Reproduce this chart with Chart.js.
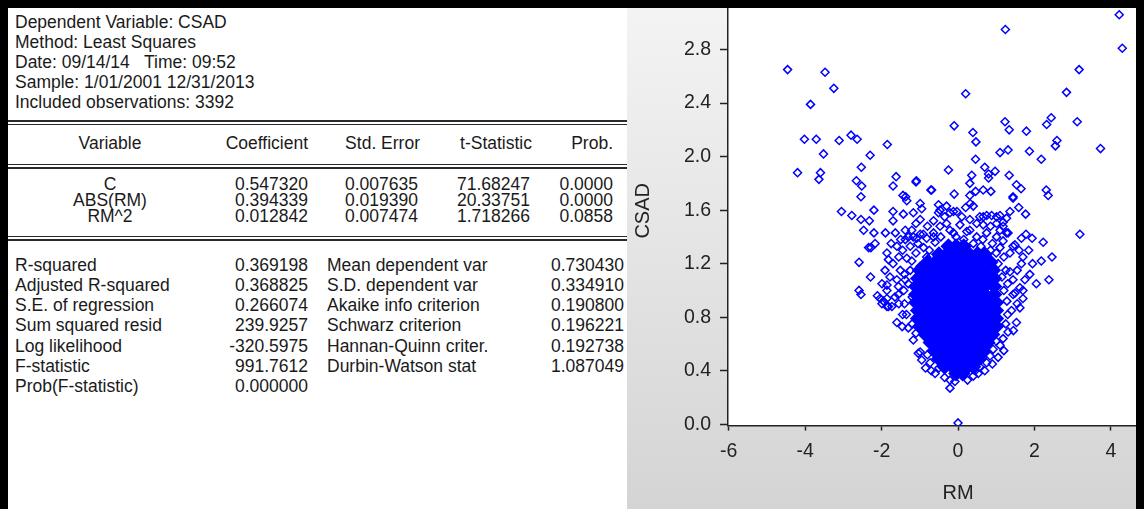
<!DOCTYPE html>
<html>
<head>
<meta charset="utf-8">
<script src="https://cdn.jsdelivr.net/npm/chart.js@4.4.1/dist/chart.umd.min.js"></script>
<style>
  html, body { margin: 0; padding: 0; width: 1144px; height: 509px; overflow: hidden; background: #fff; }
  body { position: relative; font-family: "Liberation Sans", Arial, sans-serif; color: #1a1a1a; }
  .t { position: absolute; font-size: 17.5px; line-height: 20px; white-space: nowrap; }
  .c { text-align: center; width: 110px; }
  .rule { position: absolute; left: 8px; width: 619px; background: #2a2a2a; }
  #panel { position: absolute; left: 627px; top: 0; width: 517px; height: 509px; background: linear-gradient(#f4f4f4, #d4d4d4); }
  #plot { position: absolute; left: 628px; top: -4px; width: 560px; height: 513px; }
  .bar { position: absolute; background: #000; z-index: 5; }
</style>
</head>
<body>
<div class="bar" style="left:0;top:0;width:1144px;height:8px"></div>
<div class="bar" style="left:0;top:0;width:8px;height:509px"></div>
<div class="bar" style="left:1136px;top:0;width:8px;height:509px"></div>

<div class="t" style="left:15px;top:12px">Dependent Variable: CSAD</div>
<div class="t" style="left:15px;top:32px">Method: Least Squares</div>
<div class="t" style="left:15px;top:52px">Date: 09/14/14&nbsp;&nbsp; Time: 09:52</div>
<div class="t" style="left:15px;top:72px">Sample: 1/01/2001 12/31/2013</div>
<div class="t" style="left:15px;top:92px">Included observations: 3392</div>

<div class="rule" style="top:120px;height:2px"></div>
<div class="rule" style="top:124px;height:1px"></div>

<div class="t c" style="left:55px;top:133px">Variable</div>
<div class="t" style="right:836px;top:133px">Coefficient</div>
<div class="t" style="right:724px;top:133px">Std. Error</div>
<div class="t" style="right:612px;top:133px">t-Statistic</div>
<div class="t" style="right:531px;top:133px">Prob.</div>

<div class="rule" style="top:164px;height:1px"></div>
<div class="rule" style="top:167px;height:2px"></div>

<div class="t c" style="left:55px;top:174px">C</div>
<div class="t c" style="left:55px;top:190px">ABS(RM)</div>
<div class="t c" style="left:55px;top:206px">RM^2</div>
<div class="t" style="right:836px;top:174px">0.547320</div>
<div class="t" style="right:836px;top:190px">0.394339</div>
<div class="t" style="right:836px;top:206px">0.012842</div>
<div class="t" style="right:726px;top:174px">0.007635</div>
<div class="t" style="right:726px;top:190px">0.019390</div>
<div class="t" style="right:726px;top:206px">0.007474</div>
<div class="t" style="right:614px;top:174px">71.68247</div>
<div class="t" style="right:614px;top:190px">20.33751</div>
<div class="t" style="right:614px;top:206px">1.718266</div>
<div class="t" style="right:531px;top:174px">0.0000</div>
<div class="t" style="right:531px;top:190px">0.0000</div>
<div class="t" style="right:531px;top:206px">0.0858</div>

<div class="rule" style="top:236px;height:1px"></div>
<div class="rule" style="top:239px;height:2px"></div>

<div class="t" style="left:15px;top:255px">R-squared</div>
<div class="t" style="left:15px;top:275px">Adjusted R-squared</div>
<div class="t" style="left:15px;top:295px">S.E. of regression</div>
<div class="t" style="left:15px;top:315px">Sum squared resid</div>
<div class="t" style="left:15px;top:336px">Log likelihood</div>
<div class="t" style="left:15px;top:356px">F-statistic</div>
<div class="t" style="left:15px;top:376px">Prob(F-statistic)</div>
<div class="t" style="right:836px;top:255px">0.369198</div>
<div class="t" style="right:836px;top:275px">0.368825</div>
<div class="t" style="right:836px;top:295px">0.266074</div>
<div class="t" style="right:836px;top:315px">239.9257</div>
<div class="t" style="right:836px;top:336px">-320.5975</div>
<div class="t" style="right:836px;top:356px">991.7612</div>
<div class="t" style="right:836px;top:376px">0.000000</div>
<div class="t" style="left:327px;top:255px">Mean dependent var</div>
<div class="t" style="left:327px;top:275px">S.D. dependent var</div>
<div class="t" style="left:327px;top:295px">Akaike info criterion</div>
<div class="t" style="left:327px;top:315px">Schwarz criterion</div>
<div class="t" style="left:327px;top:336px">Hannan-Quinn criter.</div>
<div class="t" style="left:327px;top:356px">Durbin-Watson stat</div>
<div class="t" style="right:520px;top:255px">0.730430</div>
<div class="t" style="right:520px;top:275px">0.334910</div>
<div class="t" style="right:520px;top:295px">0.190800</div>
<div class="t" style="right:520px;top:315px">0.196221</div>
<div class="t" style="right:520px;top:336px">0.192738</div>
<div class="t" style="right:520px;top:356px">1.087049</div>

<div id="panel"></div>
<div id="plot"><canvas id="scatter"></canvas></div>

<script>
// tick labels (6 and 3.2 fall outside the visible frame)
const xTicks = [-6, -4, -2, 0, 2, 4];
const yTicks = [0, 0.4, 0.8, 1.2, 1.6, 2.0, 2.4, 2.8];

// sparse points: [RM, CSAD]
const farPoints = [
  [-4.46, 2.65], [-3.48, 2.63], [-3.25, 2.51], [-3.86, 2.39], [-4.02, 2.13], [-3.71, 2.13],
  [-3.11, 2.12], [-2.80, 2.16], [-2.64, 2.13], [-1.85, 2.09], [-3.52, 2.02], [-2.30, 2.01],
  [-2.53, 1.92], [-4.20, 1.88], [-3.60, 1.88], [-3.64, 1.83], [-2.66, 1.82], [-2.52, 1.78],
  [-1.62, 1.85], [-1.70, 1.78], [-1.09, 1.82], [-0.71, 1.75], [-1.44, 1.71], [-2.54, 1.70],
  [4.22, 3.06], [4.30, 2.81], [1.24, 2.95], [3.17, 2.65], [0.20, 2.47], [2.84, 2.48],
  [2.44, 2.29], [2.32, 2.24], [3.12, 2.26], [-0.10, 2.23], [1.23, 2.26], [1.34, 2.20],
  [1.79, 2.19], [0.39, 2.18], [0.47, 2.11], [2.59, 2.12], [2.55, 2.08], [3.73, 2.06],
  [1.31, 2.05], [1.10, 2.03], [1.87, 2.04], [2.18, 1.98], [0.46, 1.98], [-0.25, 1.90],
  [0.70, 1.92], [0.80, 1.87], [0.80, 1.84], [0.97, 1.89], [0.36, 1.86], [0.31, 1.80],
  [1.34, 1.86], [1.53, 1.79], [1.65, 1.76], [-0.69, 1.75], [-0.10, 1.72], [0.46, 1.74],
  [0.66, 1.75], [0.86, 1.74], [2.31, 1.75], [2.36, 1.71], [1.44, 1.70], [-1.10, 1.81]
];

const shoulderPoints = [
  [3.19, 1.42], [2.18, 1.22], [2.46, 1.25], [2.38, 1.08], [2.23, 1.36], [1.94, 1.39],
  [1.78, 1.42], [1.66, 1.39], [1.77, 1.57], [1.59, 1.62], [1.36, 1.59], [1.44, 1.69],
  [0.32, 1.65], [-1.37, 1.70], [-1.34, 1.67], [-3.05, 1.59], [-2.78, 1.56], [-2.54, 1.53],
  [-2.32, 1.52], [-2.20, 1.60], [-2.47, 1.45], [-2.20, 1.43], [-1.90, 1.43], [-2.17, 1.35],
  [-2.34, 1.32], [-2.28, 1.32], [-2.59, 1.21], [-2.29, 1.10], [-2.59, 1.00], [-2.54, 0.97],
  [-2.11, 0.96], [-2.04, 0.94], [-1.86, 0.88], [-1.95, 0.92], [-1.60, 0.76], [-1.46, 0.73],
  [-0.99, 1.65], [-0.95, 1.61], [-1.70, 1.59], [-1.70, 1.52], [-1.43, 1.57], [-1.17, 1.58],
  [-0.64, 1.52], [-0.51, 1.64], [-0.30, 1.63], [-0.21, 1.58], [-0.03, 1.59], [-0.51, 1.58],
  [0.31, 1.71], [0.40, 1.63], [-1.64, 1.43], [-1.38, 1.45], [-1.21, 1.45], [-1.86, 1.28],
  [-1.82, 1.23], [-1.60, 1.33], [-1.38, 1.38], [-1.08, 1.39], [-0.91, 1.42], [-0.64, 1.43],
  [-0.47, 1.48], [-0.21, 1.45], [0.05, 1.49], [0.31, 1.45], [0.49, 1.50], [-1.34, 1.24],
  [-1.21, 1.22], [-0.99, 1.18], [-0.82, 1.25], [-1.91, 1.15], [-1.78, 1.10], [-1.99, 1.05],
  [-1.86, 1.00], [-1.56, 1.03], [-1.56, 0.97], [-1.38, 1.08], [1.27, 1.54], [1.10, 1.56],
  [0.88, 1.56], [0.66, 1.55], [1.31, 1.43], [1.49, 1.34], [1.70, 1.25], [1.66, 1.20],
  [1.88, 1.12], [1.75, 1.08], [1.70, 1.00], [1.49, 0.98], [1.01, 1.50], [1.18, 1.48],
  [-0.99, 1.53], [-0.47, 1.60], [-0.12, 1.59], [0.31, 1.53], [0.57, 1.55], [0.75, 1.56],
  [1.01, 1.55], [1.18, 1.51], [0.66, 1.49], [-1.17, 1.40], [-0.99, 1.42], [-0.82, 1.39],
  [-0.64, 1.40], [-0.12, 1.43], [0.23, 1.44], [0.49, 1.40], [0.75, 1.43], [1.01, 1.40],
  [1.27, 1.43], [1.18, 1.37], [1.44, 1.33], [1.36, 1.28],
  [-1.45, 1.30], [-1.25, 1.33], [-1.05, 1.35], [-0.75, 1.30], [-0.45, 1.40], [-0.30, 1.50],
  [-0.05, 1.40], [0.15, 1.38], [0.40, 1.35], [0.65, 1.38], [0.90, 1.35], [1.10, 1.32],
  [-1.30, 1.40], [-1.50, 1.38], [-1.75, 1.35], [-1.70, 1.20], [-1.55, 1.25], [0.10, 1.55],
  [0.20, 1.62], [-0.35, 1.55], [-0.80, 1.48], [-1.10, 1.50], [0.85, 1.48], [1.10, 1.45],
  [1.60, 1.30], [1.85, 1.30], [1.95, 1.20], [2.05, 1.05]
];

const edgePoints = [
  [1.31, 0.69], [1.18, 0.64], [1.10, 0.59], [0.92, 0.56], [0.84, 0.51], [0.75, 0.46],
  [0.53, 0.38], [0.40, 0.36], [-1.17, 0.63], [-1.04, 0.53], [-0.95, 0.48], [-0.73, 0.46],
  [-0.60, 0.38], [-0.21, 0.27], [-0.08, 0.32], [-0.21, 0.33], [0.00, 0.01], [-1.82, 0.88],
  [-1.99, 0.90], [-0.99, 0.54], [1.62, 0.87], [1.53, 0.76], [0.57, 0.43], [1.44, 0.97],
  [1.36, 1.14], [1.44, 1.08], [1.62, 1.02], [1.70, 0.94], [-1.51, 1.15], [-1.60, 1.08],
  [-1.86, 1.04], [-1.86, 0.94], [-1.73, 0.88], [1.20, 1.25], [1.25, 1.15], [1.30, 1.05],
  [1.28, 0.92], [1.30, 0.82], [1.25, 0.75], [-1.40, 1.12], [-1.42, 1.00], [-1.40, 0.90],
  [-1.35, 0.82], [-1.30, 0.72], [-1.10, 1.28], [-0.90, 1.32], [-0.60, 1.36], [0.60, 1.33],
  [0.85, 1.30], [1.00, 1.28], [-0.50, 0.42], [-0.35, 0.35], [0.25, 0.33], [0.45, 0.40],
  [0.65, 0.50], [-0.80, 0.52], [1.00, 0.62],
  [1.05, 1.20], [1.15, 1.10], [1.20, 1.00], [-1.25, 1.15], [-1.30, 1.05], [-1.20, 0.95],
  [-1.55, 0.90], [-1.45, 0.82], [-1.65, 0.95], [1.55, 1.15], [1.55, 0.90], [1.40, 0.85],
  [1.45, 0.70], [-1.20, 0.75], [-1.10, 0.68], [1.20, 0.55], [1.05, 0.50], [0.90, 0.45],
  [-0.85, 0.42], [-0.70, 0.40], [0.70, 0.40]
];

// the dense core where markers overlap into solid blue: CSAD level and RM positions on it
const coreCSAD = [1.33, 1.27, 1.21, 1.15, 1.09, 1.03, 0.97, 0.91, 0.85, 0.79, 0.73, 0.67, 0.61, 0.55, 0.49, 0.43, 0.38];
const coreRM = [
  [-0.25, -0.05, 0.15],
  [-0.5, -0.3, -0.1, 0.1, 0.3, 0.5, 0.7],
  [-0.8, -0.6, -0.4, -0.2, 0, 0.2, 0.4, 0.6, 0.85],
  [-1.0, -0.8, -0.6, -0.4, -0.2, 0, 0.2, 0.4, 0.6, 0.8, 0.92],
  [-1.05, -0.85, -0.65, -0.45, -0.25, -0.05, 0.15, 0.35, 0.55, 0.75, 0.95],
  [-1.1, -0.9, -0.7, -0.5, -0.3, -0.1, 0.1, 0.3, 0.5, 0.7, 0.95],
  [-1.1, -0.9, -0.7, -0.5, -0.3, -0.1, 0.1, 0.3, 0.5, 0.7, 0.95],
  [-1.1, -0.9, -0.7, -0.5, -0.3, -0.1, 0.1, 0.3, 0.5, 0.7, 0.9, 1.0],
  [-1.05, -0.85, -0.65, -0.45, -0.25, -0.05, 0.15, 0.35, 0.55, 0.75, 0.95, 1.0],
  [-1.05, -0.85, -0.65, -0.45, -0.25, -0.05, 0.15, 0.35, 0.55, 0.75, 0.95, 1.0],
  [-1.0, -0.8, -0.6, -0.4, -0.2, 0, 0.2, 0.4, 0.6, 0.8, 1.0],
  [-0.85, -0.65, -0.45, -0.25, -0.05, 0.15, 0.35, 0.55, 0.75, 0.9],
  [-0.72, -0.52, -0.32, -0.12, 0.08, 0.28, 0.48, 0.68, 0.77],
  [-0.62, -0.42, -0.22, -0.02, 0.18, 0.38, 0.58, 0.66],
  [-0.5, -0.3, -0.1, 0.1, 0.3, 0.55],
  [-0.35, -0.15, 0.05, 0.25, 0.4],
  [-0.05, 0.12]
];

const toXY = p => ({ x: p[0], y: p[1] });
const corePoints = [];
coreCSAD.forEach((y, i) => coreRM[i].forEach(x => corePoints.push({ x: x, y: y })));
const loosePoints = farPoints.concat(shoulderPoints, edgePoints).map(toXY);

const whiteArea = {
  id: 'whiteArea',
  beforeDraw(chart) {
    const a = chart.chartArea;
    chart.ctx.save();
    chart.ctx.fillStyle = '#ffffff';
    chart.ctx.fillRect(a.left, a.top, a.right - a.left, a.bottom - a.top);
    chart.ctx.restore();
  }
};

const axisFont = { family: '"Liberation Sans", Arial, sans-serif', size: 19.5 };
const titleFont = { family: '"Liberation Sans", Arial, sans-serif', size: 20 };

new Chart(document.getElementById('scatter'), {
  type: 'scatter',
  data: {
    datasets: [{
      label: 'CSAD',
      data: loosePoints,
      pointStyle: 'rectRot',
      pointRadius: 4,
      pointBorderWidth: 1.5,
      pointBorderColor: '#0000ff',
      pointBackgroundColor: 'rgba(0,0,0,0)'
    }, {
      label: 'CSAD core',
      data: corePoints,
      pointStyle: 'rectRot',
      pointRadius: 8,
      pointBorderWidth: 0,
      pointBackgroundColor: '#0000ff'
    }]
  },
  options: {
    responsive: true,
    maintainAspectRatio: false,
    animation: false,
    events: [],
    layout: { padding: 0, autoPadding: false },
    plugins: {
      legend: { display: false },
      tooltip: { enabled: false }
    },
    scales: {
      x: {
        type: 'linear',
        min: -6.02,
        max: 6.02,
        afterBuildTicks: s => { s.ticks = xTicks.map(v => ({ value: v })); },
        afterFit: s => { s.height = 83.4; s.paddingLeft = 0; s.paddingRight = 0; },
        grid: { drawOnChartArea: false, tickLength: 5, tickColor: '#222', tickWidth: 1.5 },
        border: { color: '#222', width: 1.5 },
        ticks: { font: axisFont, color: '#222', padding: 9, maxRotation: 0, callback: v => String(v) },
        title: { display: true, text: 'RM', font: titleFont, color: '#222', padding: { top: 0, bottom: 4 } }
      },
      y: {
        type: 'linear',
        min: -0.01,
        max: 3.2,
        afterBuildTicks: s => { s.ticks = yTicks.map(v => ({ value: v })); },
        afterFit: s => { s.width = 100; s.paddingTop = 0; s.paddingBottom = 0; },
        grid: { drawOnChartArea: false, tickLength: 8, tickColor: '#222', tickWidth: 1.5 },
        border: { color: '#222', width: 1.5 },
        ticks: { font: axisFont, color: '#222', padding: 9, callback: v => v.toFixed(1) },
        title: { display: true, text: 'CSAD', font: titleFont, color: '#222', padding: { top: 3, bottom: 0 } }
      }
    }
  },
  plugins: [whiteArea]
});
</script>
</body>
</html>
